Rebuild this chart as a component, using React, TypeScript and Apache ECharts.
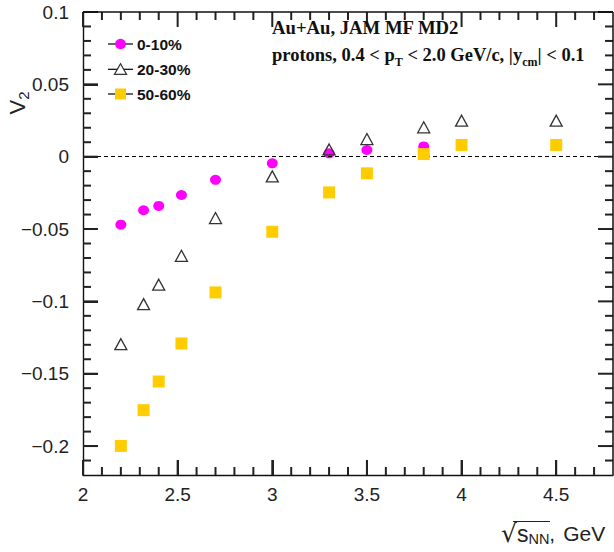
import React, { useEffect, useRef } from "react";
import * as echarts from "echarts";

// ---- data ----
const energies010 = [2.2, 2.32, 2.4, 2.52, 2.7, 3.0, 3.3, 3.5, 3.8];
const v2Central = [-0.047, -0.037, -0.034, -0.0265, -0.016, -0.0046, 0.0023, 0.0046, 0.0071];

const energies = [2.2, 2.32, 2.4, 2.52, 2.7, 3.0, 3.3, 3.5, 3.8, 4.0, 4.5];
const v2Mid = [-0.1296, -0.1019, -0.0885, -0.0685, -0.0424, -0.0136, 0.005, 0.0122, 0.0203, 0.0249, 0.0249];
const v2Peripheral = [-0.1999, -0.1752, -0.1554, -0.1291, -0.0938, -0.0519, -0.0247, -0.0115, 0.0018, 0.0081, 0.0081];

const seriesNames = ["0-10%", "20-30%", "50-60%"];

// ---- axes / ticks ----
const xMin = 2;
const xMax = 4.8;
const yMin = -0.22;
const yMax = 0.1;
const xMajorTicks = [2, 2.5, 3, 3.5, 4, 4.5];
const yMajorTicks = [-0.2, -0.15, -0.1, -0.05, 0, 0.05, 0.1];
const xMinorTicks: number[] = [];
for (let k = 21; k < 48; k++) if (k % 5 !== 0) xMinorTicks.push(k / 10);
const yMinorTicks: number[] = [];
for (let k = -21; k < 10; k++) if (k % 5 !== 0) yMinorTicks.push(k / 100);

const GRID = { left: 83, right: 1, top: 12, bottom: 77 };
const AXIS_FONT = "'Liberation Sans', Arial, sans-serif";
const SERIF = "'Liberation Serif', 'Times New Roman', serif";
const MAJOR_LEN = 15;
const MINOR_LEN = 8;

const fmt = (v: number) => String(Math.round(v * 1000) / 1000).replace("-", "\u2212");
const tickStyle = { stroke: "#222", lineWidth: 2 };

function axis(dim: "x" | "y") {
  const isX = dim === "x";
  return {
    type: "value",
    min: isX ? xMin : yMin,
    max: isX ? xMax : yMax,
    interval: isX ? 0.5 : undefined,
    splitNumber: isX ? undefined : 5,
    axisLine: { show: true, onZero: false, lineStyle: { color: "#111", width: 1.4 } },
    axisTick: { show: true, inside: true, length: MAJOR_LEN, lineStyle: { color: "#222", width: 2 } },
    axisLabel: {
      show: true,
      showMinLabel: isX,
      showMaxLabel: !isX,
      formatter: fmt,
      fontSize: 19,
      fontFamily: AXIS_FONT,
      color: "#222",
      margin: isX ? 10 : 14,
    },
    splitLine: { show: false },
  };
}

export default function App() {
  const ref = useRef<HTMLDivElement>(null);

  useEffect(() => {
    if (!ref.current) return;
    const chart = echarts.init(ref.current, undefined, { renderer: "svg" });
    const pair = (xs: number[], ys: number[]) => xs.map((x, i) => [x, ys[i]]);

    const legendRows = [44, 69.3, 94];
    const legendGraphics: any[] = [];
    legendRows.forEach((y, i) => {
      legendGraphics.push({ type: "line", shape: { x1: 108, y1: y, x2: 133, y2: y }, style: { stroke: "#000", lineWidth: 1.2 }, z: 10 });
      if (i === 0) {
        legendGraphics.push({ type: "circle", shape: { cx: 120.5, cy: y, r: 5.3 }, style: { fill: "#ff00ff" }, z: 11 });
      } else if (i === 1) {
        legendGraphics.push({
          type: "polygon",
          shape: { points: [[120.5, y - 5.5], [126.5, y + 5], [114.5, y + 5]] },
          style: { fill: "#fff", stroke: "#333", lineWidth: 1.3 },
          z: 11,
        });
      } else {
        legendGraphics.push({ type: "rect", shape: { x: 115, y: y - 5.5, width: 11, height: 11 }, style: { fill: "#ffcc00" }, z: 11 });
      }
      legendGraphics.push({
        type: "text",
        x: 137,
        y,
        style: { text: seriesNames[i], fontSize: 15.5, fontWeight: "bold", fontFamily: AXIS_FONT, fill: "#111", verticalAlign: "middle" },
        z: 11,
      });
    });

    const textGraphics: any[] = [
      {
        type: "text",
        x: 272,
        y: 37,
        style: { text: "Au+Au, JAM MF MD2", fontSize: 18.7, fontWeight: "bold", fontFamily: SERIF, fill: "#111", verticalAlign: "bottom" },
        z: 12,
      },
      {
        type: "text",
        x: 272,
        y: 42,
        style: {
          text: "protons, 0.4 < p{sub|T} < 2.0 GeV/c, |y{sub|cm}| < 0.1",
          fontSize: 18.5,
          fontWeight: "bold",
          fontFamily: SERIF,
          fill: "#111",
          verticalAlign: "top",
          rich: {
            sub: { fontSize: 12, fontWeight: "bold", fontFamily: SERIF, fill: "#111", verticalAlign: "bottom", padding: [14, 0, 0, 0] },
          },
        },
        z: 12,
      },
      {
        type: "text",
        x: 17,
        y: 103,
        rotation: Math.PI / 2,
        style: {
          text: "V{sub|2}",
          fontSize: 22,
          fontFamily: AXIS_FONT,
          fill: "#222",
          align: "center",
          verticalAlign: "middle",
          rich: { sub: { fontSize: 15, fontFamily: AXIS_FONT, fill: "#222", verticalAlign: "bottom", padding: [12, 0, 0, 0] } },
        },
        z: 12,
      },
      {
        type: "text",
        x: 501,
        y: 546,
        style: {
          text: "{r|\u221A}{s|s}{sub|NN}{c|,}{g|GeV}",
          fontSize: 21,
          fontFamily: AXIS_FONT,
          fill: "#222",
          verticalAlign: "bottom",
          rich: {
            r: { fontSize: 25, fontFamily: "'DejaVu Sans', sans-serif", fill: "#222" },
            s: { fontSize: 23, fontFamily: AXIS_FONT, fill: "#222" },
            sub: { fontSize: 14.5, fontFamily: AXIS_FONT, fill: "#222", verticalAlign: "bottom", padding: [9, 0, 0, 0] },
            c: { fontSize: 21, fontFamily: AXIS_FONT, fill: "#222" },
            g: { fontSize: 21, fontFamily: AXIS_FONT, fill: "#222", padding: [0, 0, 0, 8] },
          },
        },
        z: 12,
      },
      { type: "line", shape: { x1: 513, y1: 521.5, x2: 550, y2: 521.5 }, style: { stroke: "#222", lineWidth: 1.2 }, z: 12 },
    ];

    const option: any = {
      animation: false,
      backgroundColor: "#fff",
      grid: { ...GRID, containLabel: false },
      xAxis: axis("x"),
      yAxis: axis("y"),
      series: [
        {
          name: seriesNames[0],
          type: "scatter",
          data: pair(energies010, v2Central),
          symbol: "circle",
          symbolSize: [11, 10],
          itemStyle: { color: "#ff00ff", opacity: 1 },
          z: 3,
          markLine: {
            silent: true,
            symbol: "none",
            label: { show: false },
            lineStyle: { color: "#000", width: 1, type: [4, 3] },
            data: [{ yAxis: 0 }],
          },
        },
        {
          name: seriesNames[1],
          type: "scatter",
          data: pair(energies, v2Mid),
          symbol: "triangle",
          symbolSize: [12, 11],
          itemStyle: { color: "rgba(255,255,255,0)", borderColor: "#333", borderWidth: 1.3, opacity: 1 },
          z: 4,
        },
        {
          name: seriesNames[2],
          type: "scatter",
          data: pair(energies, v2Peripheral),
          symbol: "rect",
          symbolSize: 12,
          itemStyle: { color: "#ffcc00", opacity: 1 },
          z: 5,
        },
      ],
      graphic: [...legendGraphics, ...textGraphics],
    };

    chart.setOption(option);

    // minor ticks, top/right ticks and the frame, placed through the chart's own axis scales
    const frameGraphics: any[] = [];
    const px = (v: number[]) => chart.convertToPixel({ xAxisIndex: 0, yAxisIndex: 0 } as any, v) as any;
    const xTick = (v: number, len: number) => {
      const b = px([v, yMin]);
      const t = px([v, yMax]);
      if (!b || !t) return;
      frameGraphics.push({ type: "line", shape: { x1: b[0], y1: b[1], x2: b[0], y2: b[1] - len }, style: { ...tickStyle }, z: 9 });
      frameGraphics.push({ type: "line", shape: { x1: t[0], y1: t[1], x2: t[0], y2: t[1] + len }, style: { ...tickStyle }, z: 9 });
    };
    const yTick = (v: number, len: number) => {
      const l = px([xMin, v]);
      const r = px([xMax, v]);
      if (!l || !r) return;
      frameGraphics.push({ type: "line", shape: { x1: l[0], y1: l[1], x2: l[0] + len, y2: l[1] }, style: { ...tickStyle }, z: 9 });
      frameGraphics.push({ type: "line", shape: { x1: r[0], y1: r[1], x2: r[0] - len, y2: r[1] }, style: { ...tickStyle }, z: 9 });
    };
    xMajorTicks.forEach((v) => xTick(v, MAJOR_LEN));
    xMinorTicks.forEach((v) => xTick(v, MINOR_LEN));
    yMajorTicks.forEach((v) => yTick(v, MAJOR_LEN));
    yMinorTicks.forEach((v) => yTick(v, MINOR_LEN));
    const tl = px([xMin, yMax]);
    const br = px([xMax, yMin]);
    if (tl && br) {
      frameGraphics.push({ type: "line", shape: { x1: tl[0], y1: tl[1], x2: br[0], y2: tl[1] }, style: { stroke: "#111", lineWidth: 1.5 }, z: 9 });
      frameGraphics.push({ type: "line", shape: { x1: br[0], y1: tl[1], x2: br[0], y2: br[1] }, style: { stroke: "#111", lineWidth: 1.5 }, z: 9 });
    }
    chart.setOption({ graphic: [...legendGraphics, ...textGraphics, ...frameGraphics] });

    return () => chart.dispose();
  }, []);

  return <div ref={ref} style={{ position: "absolute", left: 0, top: 0, width: 614, height: 552 }} />;
}
